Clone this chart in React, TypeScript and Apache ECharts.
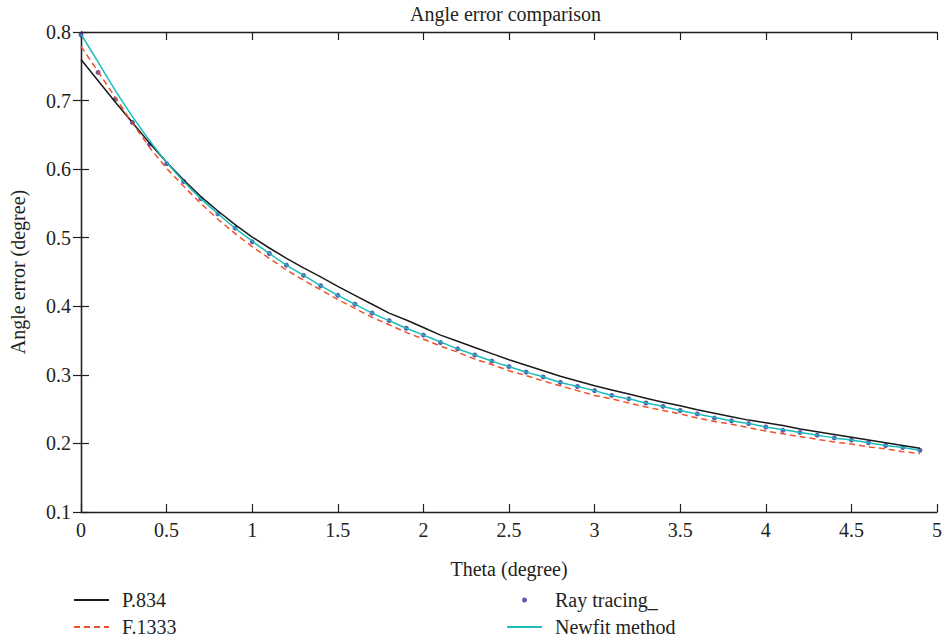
import React, { useEffect, useRef } from "react";
import * as echarts from "echarts";

const THETA = [
  0, 0.1, 0.2, 0.3, 0.4, 0.5, 0.6, 0.7, 0.8, 0.9,
  1.0, 1.1, 1.2, 1.3, 1.4, 1.5, 1.6, 1.7, 1.8, 1.9,
  2.0, 2.1, 2.2, 2.3, 2.4, 2.5, 2.6, 2.7, 2.8, 2.9,
  3.0, 3.1, 3.2, 3.3, 3.4, 3.5, 3.6, 3.7, 3.8, 3.9,
  4.0, 4.1, 4.2, 4.3, 4.4, 4.5, 4.6, 4.7, 4.8, 4.9,
];

const P834 = [
  0.760, 0.729, 0.698, 0.668, 0.638, 0.610, 0.584, 0.560, 0.539, 0.519,
  0.501, 0.485, 0.470, 0.456, 0.443, 0.429, 0.416, 0.403, 0.390, 0.380,
  0.369, 0.358, 0.349, 0.340, 0.331, 0.322, 0.314, 0.306, 0.298, 0.291,
  0.284, 0.278, 0.272, 0.266, 0.260, 0.255, 0.249, 0.244, 0.239, 0.234,
  0.230, 0.226, 0.221, 0.217, 0.213, 0.209, 0.205, 0.201, 0.197, 0.193,
];

const F1333 = [
  0.779, 0.742, 0.705, 0.667, 0.632, 0.601, 0.575, 0.550, 0.527, 0.506,
  0.487, 0.470, 0.453, 0.438, 0.424, 0.410, 0.397, 0.384, 0.373, 0.362,
  0.352, 0.342, 0.333, 0.323, 0.315, 0.306, 0.299, 0.291, 0.284, 0.277,
  0.270, 0.265, 0.259, 0.253, 0.248, 0.243, 0.237, 0.232, 0.228, 0.223,
  0.218, 0.214, 0.210, 0.206, 0.202, 0.199, 0.195, 0.192, 0.188, 0.185,
];

const RAY_TRACING = [
  0.796, 0.741, 0.702, 0.668, 0.636, 0.608, 0.582, 0.557, 0.535, 0.514,
  0.494, 0.477, 0.460, 0.445, 0.430, 0.416, 0.403, 0.390, 0.379, 0.368,
  0.358, 0.347, 0.338, 0.329, 0.320, 0.312, 0.304, 0.297, 0.289, 0.283,
  0.277, 0.270, 0.265, 0.259, 0.254, 0.248, 0.243, 0.237, 0.233, 0.229,
  0.224, 0.219, 0.216, 0.212, 0.208, 0.205, 0.201, 0.197, 0.194, 0.190,
];

const NEWFIT = [
  0.797, 0.756, 0.715, 0.677, 0.642, 0.610, 0.582, 0.557, 0.535, 0.514,
  0.495, 0.477, 0.460, 0.445, 0.430, 0.416, 0.403, 0.390, 0.379, 0.368,
  0.358, 0.348, 0.338, 0.329, 0.320, 0.312, 0.304, 0.297, 0.289, 0.283,
  0.277, 0.270, 0.265, 0.259, 0.254, 0.248, 0.243, 0.238, 0.233, 0.229,
  0.224, 0.220, 0.216, 0.212, 0.208, 0.205, 0.201, 0.197, 0.194, 0.190,
];

const X_TICKS = { min: 0, max: 5, interval: 0.5 };
const Y_TICKS = { min: 0.1, max: 0.8, interval: 0.1 };

const FONT = "Liberation Serif";
const INK = "#231f20";

const pairs = (ys: number[]) => THETA.map((x, i) => [x, ys[i]]);

export default function App() {
  const ref = useRef<HTMLDivElement>(null);

  useEffect(() => {
    document.body.style.margin = "0";
    if (!ref.current) return;
    const chart = echarts.init(ref.current, undefined, { renderer: "svg" });
    const axisLine = { show: true, lineStyle: { color: INK, width: 1.3 } };
    const tick = { show: true, inside: true, length: 8, lineStyle: { color: INK, width: 1.2 } };
    const labelStyle = { color: INK, fontSize: 20, fontFamily: FONT };
    const noSymbol = { opacity: 0 };
    const option: any = {
      animation: false,
      backgroundColor: "#ffffff",
      title: {
        text: "Angle error comparison",
        left: 410,
        top: 4,
        padding: 0,
        textStyle: { color: INK, fontSize: 20, fontWeight: "normal", fontFamily: FONT },
      },
      grid: { left: 73, right: 7, top: 32, bottom: 130, containLabel: false },
      xAxis: [
        {
          type: "value",
          ...X_TICKS,
          name: "Theta (degree)",
          nameLocation: "middle",
          nameGap: 47,
          nameTextStyle: labelStyle,
          axisLine,
          axisTick: tick,
          axisLabel: { ...labelStyle, margin: 8 },
          splitLine: { show: false },
        },
        {
          type: "value",
          position: "top",
          ...X_TICKS,
          axisLine,
          axisTick: tick,
          axisLabel: { show: false },
          splitLine: { show: false },
        },
      ],
      yAxis: [
        {
          type: "value",
          ...Y_TICKS,
          name: "Angle error (degree)",
          nameLocation: "middle",
          nameGap: 53,
          nameTextStyle: labelStyle,
          axisLine,
          axisTick: tick,
          axisLabel: { ...labelStyle, margin: 10, formatter: (v: number) => v.toFixed(1) },
          splitLine: { show: false },
        },
        {
          type: "value",
          position: "right",
          ...Y_TICKS,
          axisLine,
          axisTick: tick,
          axisLabel: { show: false },
          splitLine: { show: false },
        },
      ],
      legend: [
        {
          orient: "vertical",
          left: 73,
          top: 590,
          padding: 0,
          itemWidth: 35,
          itemHeight: 5,
          itemGap: 7,
          data: [
            { name: "P.834", itemStyle: noSymbol },
            { name: "F.1333", itemStyle: noSymbol },
          ],
          textStyle: { ...labelStyle, padding: [0, 0, 0, 8] },
        },
        {
          orient: "vertical",
          left: 506,
          top: 590,
          padding: 0,
          itemWidth: 35,
          itemHeight: 5,
          itemGap: 7,
          data: [
            { name: "Ray tracing_" },
            { name: "Newfit method", itemStyle: noSymbol },
          ],
          textStyle: { ...labelStyle, padding: [0, 0, 0, 8] },
        },
      ],
      series: [
        {
          name: "P.834",
          type: "line",
          data: pairs(P834),
          symbol: "none",
          lineStyle: { color: "#1a1a1a", width: 1.5 },
          itemStyle: { color: "#1a1a1a" },
        },
        {
          name: "F.1333",
          type: "line",
          data: pairs(F1333),
          symbol: "none",
          lineStyle: { color: "#f0502a", width: 1.5, type: [6, 4] },
          itemStyle: { color: "#f0502a" },
        },
        {
          name: "Newfit method",
          type: "line",
          data: pairs(NEWFIT),
          symbol: "none",
          smooth: 0.2,
          lineStyle: { color: "#1bbcbd", width: 1.5 },
          itemStyle: { color: "#1bbcbd" },
        },
        {
          name: "Ray tracing_",
          type: "scatter",
          data: pairs(RAY_TRACING),
          symbol: "circle",
          symbolSize: 5,
          itemStyle: { color: "#3a2f95" },
        },
      ],
    };
    chart.setOption(option);
    return () => chart.dispose();
  }, []);

  return (
    <div
      ref={ref}
      style={{ position: "fixed", left: 0, top: 0, width: 945, height: 642 }}
    />
  );
}
